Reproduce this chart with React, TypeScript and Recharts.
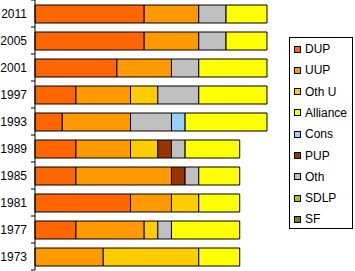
import { BarChart, Bar, XAxis, YAxis } from 'recharts'

const years = ['2011', '2005', '2001', '1997', '1993', '1989', '1985', '1981', '1977', '1973']

const dup      = [8, 8, 6, 3, 2, 3, 3, 7, 3, 0]
const uup      = [4, 4, 4, 4, 5, 4, 7, 3, 5, 5]
const othU     = [0, 0, 0, 2, 0, 2, 0, 2, 1, 7]
const pup      = [0, 0, 0, 0, 0, 1, 1, 0, 0, 0]
const oth      = [2, 2, 2, 3, 3, 1, 1, 0, 1, 0]
const cons     = [0, 0, 0, 0, 1, 0, 0, 0, 0, 0]
const alliance = [3, 3, 5, 5, 6, 4, 3, 3, 5, 3]
const sdlp     = [0, 0, 0, 0, 0, 0, 0, 0, 0, 0]
const sf       = [0, 0, 0, 0, 0, 0, 0, 0, 0, 0]

// stacking order (left to right in the bars)
const SERIES = [
  { key: 'DUP', values: dup, color: '#ff6600' },
  { key: 'UUP', values: uup, color: '#ff9900' },
  { key: 'Oth U', values: othU, color: '#ffcc00' },
  { key: 'PUP', values: pup, color: '#993300' },
  { key: 'Oth', values: oth, color: '#c0c0c0' },
  { key: 'Cons', values: cons, color: '#99ccff' },
  { key: 'Alliance', values: alliance, color: '#ffff00' },
  { key: 'SDLP', values: sdlp, color: '#99cc00' },
  { key: 'SF', values: sf, color: '#808000' },
]

// legend order
const LEGEND = ['DUP', 'UUP', 'Oth U', 'Alliance', 'Cons', 'PUP', 'Oth', 'SDLP', 'SF']

const FONT = '"Liberation Sans", Arial, sans-serif'
const BAND = 27

const data = years.map((year, i) => {
  const row: Record<string, string | number> = { year }
  for (const s of SERIES) row[s.key] = s.values[i]
  return row
})

function YearTick(props: any) {
  const { y, payload, index } = props
  const top = y - BAND / 2
  return (
    <g>
      <line x1={31} x2={35} y1={top} y2={top} stroke="#000" />
      {index === years.length - 1 && (
        <line x1={31} x2={35} y1={top + BAND} y2={top + BAND} stroke="#000" />
      )}
      <text x={27} y={y} dy="0.4em" textAnchor="end" fontSize={12} fontFamily={FONT} fill="#000">
        {payload.value}
      </text>
    </g>
  )
}

export default function App() {
  return (
    <div style={{ position: 'absolute', left: 0, top: 0, width: 355, height: 271, background: '#fff' }}>
      <BarChart
        width={355}
        height={271}
        data={data}
        layout="vertical"
        barSize={18}
        margin={{ top: 0, right: 88, bottom: 1, left: 0 }}
      >
        <XAxis type="number" domain={[0, 17]} hide />
        <YAxis
          type="category"
          dataKey="year"
          width={35}
          axisLine={{ stroke: '#000' }}
          tickLine={false}
          tick={<YearTick />}
          interval={0}
        />
        {SERIES.map(s => (
          <Bar
            key={s.key}
            dataKey={s.key}
            stackId="a"
            barSize={18}
            fill={s.color}
            stroke="#000"
            strokeWidth={1}
            isAnimationActive={false}
          />
        ))}
      </BarChart>
      <div
        style={{
          position: 'absolute', left: 289, top: 37, width: 62, height: 190,
          border: '1px solid #000', background: '#fff', fontFamily: FONT, fontSize: 12,
        }}
      >
        {LEGEND.map((name, i) => {
          const s = SERIES.find(x => x.key === name)!
          return (
            <div
              key={name}
              style={{
                position: 'absolute', left: 4, top: 3 + i * 21.3, height: 16,
                display: 'flex', alignItems: 'center', whiteSpace: 'nowrap',
              }}
            >
              <span style={{ width: 5, height: 5, border: '1px solid #000', background: s.color, marginRight: 4 }} />
              <span style={{ lineHeight: '16px' }}>{name}</span>
            </div>
          )
        })}
      </div>
    </div>
  )
}
